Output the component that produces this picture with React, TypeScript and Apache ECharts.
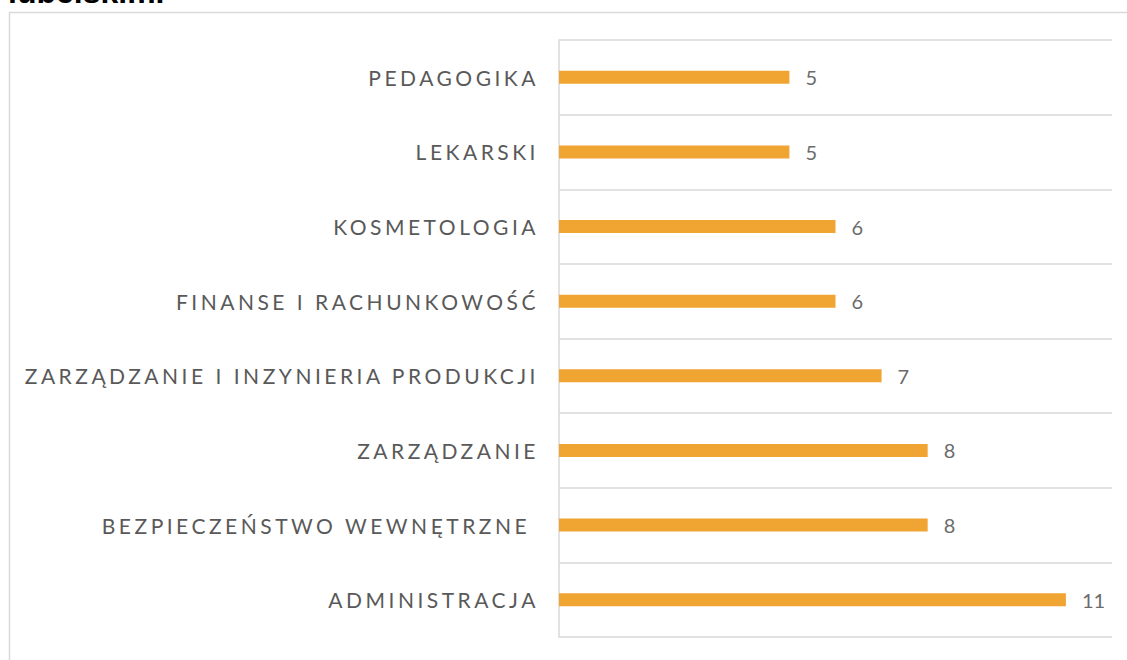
import React, { useEffect, useRef } from "react";
import * as echarts from "echarts";

const categories = [
  "PEDAGOGIKA",
  "LEKARSKI",
  "KOSMETOLOGIA",
  "FINANSE I RACHUNKOWOŚĆ",
  "ZARZĄDZANIE I INZYNIERIA PRODUKCJI",
  "ZARZĄDZANIE",
  "BEZPIECZEŃSTWO WEWNĘTRZNE ",
  "ADMINISTRACJA",
];
const values = [5, 5, 6, 6, 7, 8, 8, 11];
const titleText = "lubelskim.";

const LETTER_SPACING = 3.5;

export default function App() {
  const ref = useRef<HTMLDivElement>(null);
  useEffect(() => {
    if (!ref.current) return;
    const chart = echarts.init(ref.current, undefined, { renderer: "svg" });
    const option: any = {
      animation: false,
      backgroundColor: "#ffffff",
      grid: { left: 559, right: 15, top: 40, bottom: 23 },
      xAxis: {
        type: "value",
        min: 0,
        max: 12,
        show: false,
      },
      yAxis: {
        type: "category",
        data: categories,
        inverse: true,
        axisTick: { show: false },
        axisLine: { show: true, lineStyle: { color: "#d9d9d9", width: 1.5 } },
        splitLine: { show: true, lineStyle: { color: "#d9d9d9", width: 1.5 } },
        axisLabel: {
          color: "#595959",
          fontSize: 21,
          fontFamily: "Lato",
          margin: 23.5 - LETTER_SPACING,
        },
      },
      series: [
        {
          type: "bar",
          data: values,
          barWidth: 13,
          itemStyle: { color: "#F0A431" },
          label: {
            show: true,
            position: "right",
            distance: 16,
            color: "#6b6b6b",
            fontSize: 20,
            fontFamily: "Lato",
          },
        },
      ],
      graphic: [
        {
          type: "rect",
          shape: { x: 9.5, y: 12.5, width: 1200, height: 700 },
          style: { fill: "none", stroke: "#d9d9d9", lineWidth: 1.5 },
          silent: true,
        },
        {
          type: "text",
          x: 8,
          y: 8,
          style: {
            text: titleText,
            font: 'bold 32px "Liberation Sans", Arial, sans-serif',
            fill: "#000000",
            verticalAlign: "bottom",
          },
          silent: true,
        },
      ],
    };
    chart.setOption(option);
    const applySpacing = () => {
      const el = ref.current;
      if (!el) return;
      el.querySelectorAll("text").forEach((t) => {
        const c = t.textContent || "";
        if (categories.some((cat) => cat.trim() === c.trim())) {
          (t as SVGTextElement).style.letterSpacing = LETTER_SPACING + "px";
          (t as SVGTextElement).style.whiteSpace = "pre";
        }
      });
    };
    applySpacing();
    chart.on("finished", applySpacing);
    const raf = requestAnimationFrame(applySpacing);
    return () => {
      cancelAnimationFrame(raf);
      chart.dispose();
    };
  }, []);
  return (
    <div
      ref={ref}
      style={{ position: "absolute", left: 0, top: 0, width: 1127, height: 660 }}
    />
  );
}
